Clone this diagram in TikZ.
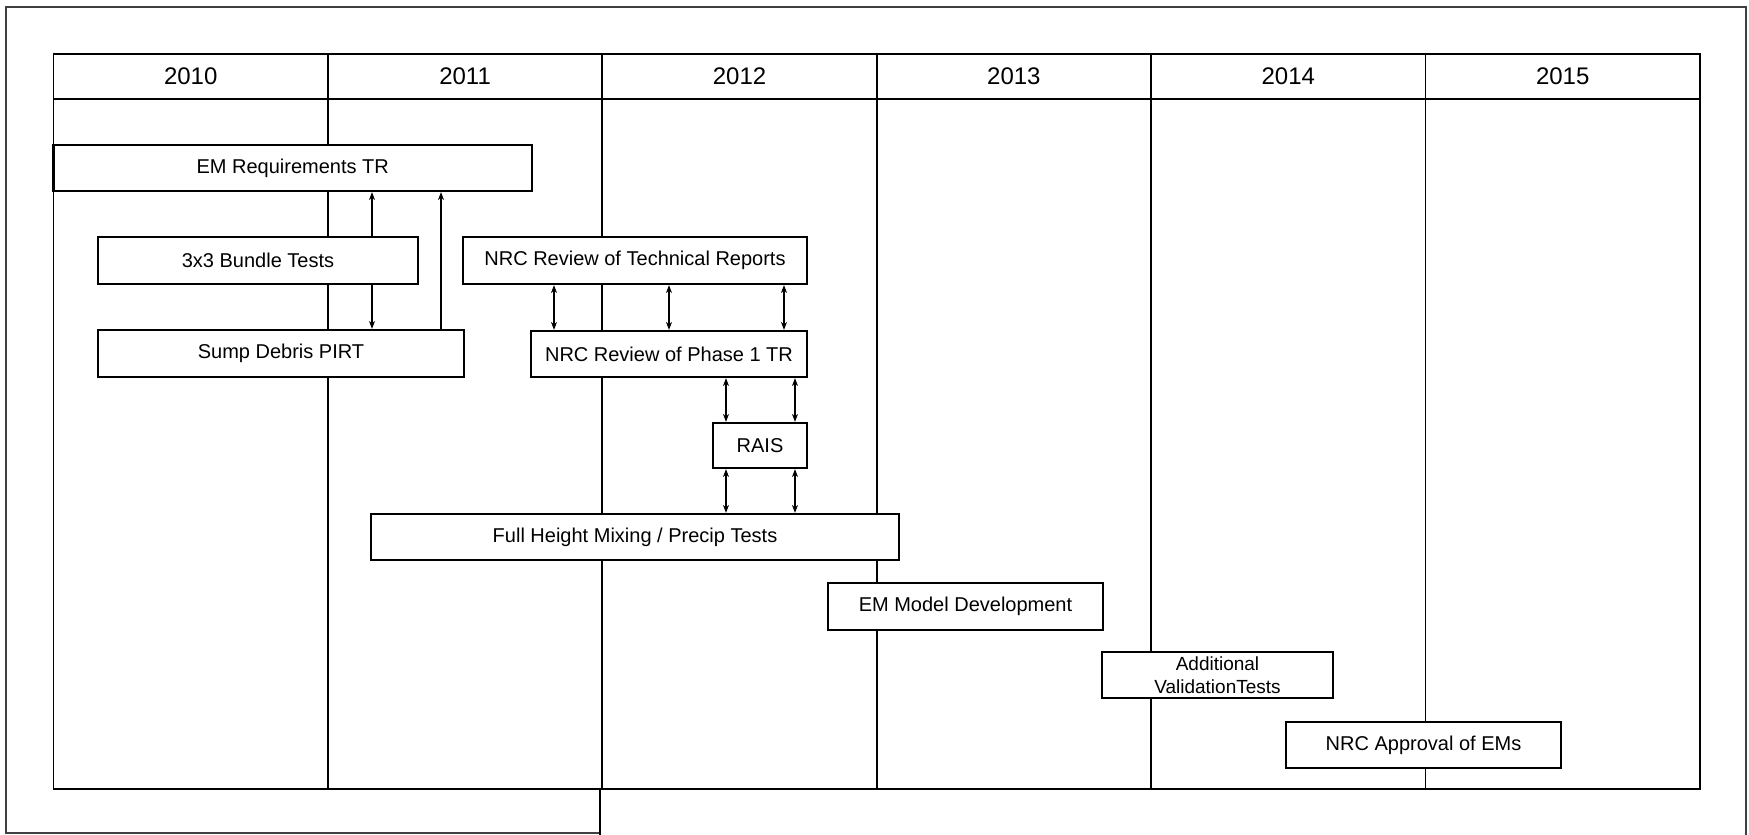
\documentclass[tikz,border=0pt]{standalone}
\usepackage{fontspec}
\setmainfont{Liberation Sans}
\usetikzlibrary{arrows.meta}
\begin{document}
\begin{tikzpicture}[x=1pt,y=-1pt,
  grid/.style={line width=1.9pt,black},
  frame/.style={line width=1.5pt,black!75},
  box/.style={draw,line width=2.2pt,fill=white,rectangle,inner sep=0pt,minimum height=46pt,font=\fontsize{20}{23}\selectfont,align=center},
  year/.style={font=\fontsize{24}{26}\selectfont},
  arr/.style={line width=1.8pt,-{Stealth[length=8pt,width=6pt]}},
  darr/.style={line width=1.8pt,{Stealth[length=8pt,width=6pt]}-{Stealth[length=8pt,width=6pt]}}]
\useasboundingbox (0,0) rectangle (1749,835);
% outer frame
\draw[frame] (600,833) -- (6,833) -- (6,7) -- (1746,7) -- (1746,835);
% table
\draw[grid] (53.5,54) rectangle (1700,789);
\draw[grid] (53.5,99) -- (1700,99);
\foreach \i in {1,...,5} {\draw[grid] ({53.5+\i*274.4},54) -- ({53.5+\i*274.4},789);}
\draw[grid] (600,789) -- (600,835);
% years
\foreach \y [count=\i from 0] in {2010,2011,2012,2013,2014,2015}
  {\node[year] (y\y) at ({53.5+137.2+\i*274.4},76.5) {\y};}
% boxes
\node[box,minimum width=478.5pt] (emreq) at (292.75,168) {EM Requirements TR};
\node[box,minimum width=320pt,minimum height=47pt] (bundle) at (258,260.5) {3x3 Bundle Tests};
\node[box,minimum width=366pt,minimum height=47pt] (sump) at (281,353.5) {Sump Debris PIRT};
\node[box,minimum width=344pt,minimum height=47pt] (nrctech) at (635,260.5) {NRC Review of Technical Reports};
\node[box,minimum width=276pt] (phase1) at (669,354) {NRC Review of Phase 1 TR};
\node[box,minimum width=94pt,minimum height=45pt] (rais) at (760,445.5) {RAIS};
\node[box,minimum width=528pt] (fullh) at (635,537) {Full Height Mixing / Precip Tests};
\node[box,minimum width=275pt,minimum height=47pt] (emmodel) at (965.5,606.5) {EM Model Development};
\node[box,minimum width=231pt,font=\fontsize{19}{23}\selectfont] (addval) at (1217.5,675) {Additional\\ValidationTests};
\node[box,minimum width=275pt] (nrcapp) at (1423.5,745) {NRC Approval of EMs};
% connector x positions
\coordinate (xa) at (372,0);
\coordinate (xb) at (441,0);
\coordinate (xc) at (554,0);
\coordinate (xd) at (669,0);
\coordinate (xe) at (784,0);
\coordinate (xf) at (726,0);
\coordinate (xg) at (795,0);
% connectors
\draw[arr] (bundle.north -| xa) -- (emreq.south -| xa);
\draw[arr] (bundle.south -| xa) -- (sump.north -| xa);
\draw[arr] (sump.north -| xb) -- (emreq.south -| xb);
\draw[darr] (nrctech.south -| xc) -- (phase1.north -| xc);
\draw[darr] (nrctech.south -| xd) -- (phase1.north -| xd);
\draw[darr] (nrctech.south -| xe) -- (phase1.north -| xe);
\draw[darr] (phase1.south -| xf) -- (rais.north -| xf);
\draw[darr] (phase1.south -| xg) -- (rais.north -| xg);
\draw[darr] (rais.south -| xf) -- (fullh.north -| xf);
\draw[darr] (rais.south -| xg) -- (fullh.north -| xg);
\end{tikzpicture}
\end{document}
